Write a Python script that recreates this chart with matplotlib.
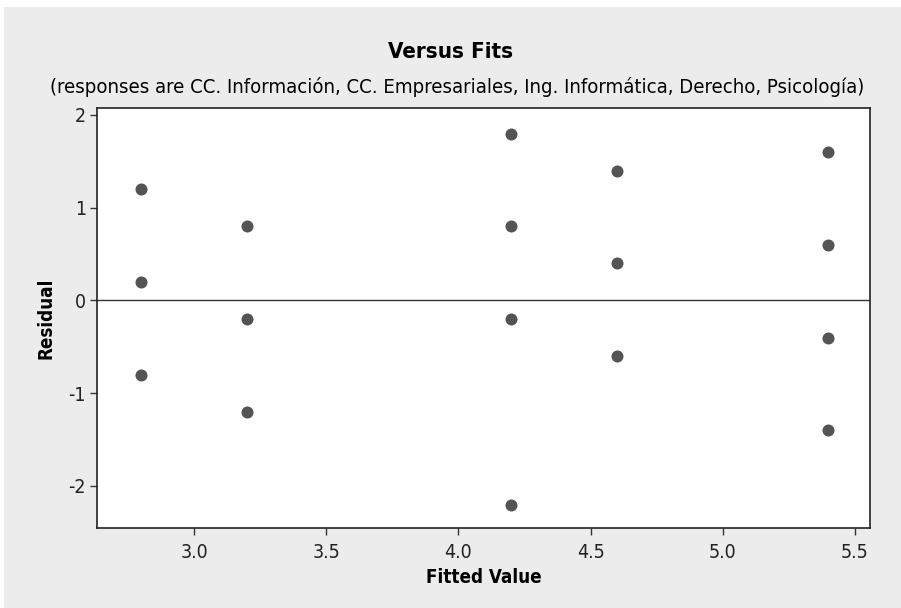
import matplotlib.pyplot as plt
from matplotlib.patches import Rectangle

# Residuals vs fitted values (Minitab-style)
fitted = [2.8, 2.8, 2.8,
          3.2, 3.2, 3.2,
          4.2, 4.2, 4.2, 4.2,
          4.6, 4.6, 4.6,
          5.4, 5.4, 5.4, 5.4]
residual = [1.2, 0.2, -0.8,
            0.8, -0.2, -1.2,
            1.8, 0.8, -0.2, -2.2,
            1.4, 0.4, -0.6,
            1.6, 0.6, -0.4, -1.4]

xticks = [3.0, 3.5, 4.0, 4.5, 5.0, 5.5]
yticks = [-2, -1, 0, 1, 2]

title = 'Versus Fits'
subtitle = ('(responses are CC. Información, CC. Empresariales, '
            'Ing. Informática, Derecho, Psicología)')

plt.rcParams['font.family'] = ['DejaVu Sans']
font = dict(family='DejaVu Sans', stretch='condensed')

fig = plt.figure(figsize=(9.01, 6.08), dpi=100, facecolor='white')
fig.patches.append(Rectangle((4 / 901, 0), 1, 1 - 7 / 608, transform=fig.transFigure,
                             facecolor='#ececec', edgecolor='none', zorder=-10))

ax = fig.add_axes([97 / 901, 80 / 608, 773 / 901, 420 / 608])
ax.set_facecolor('white')
ax.scatter(fitted, residual, s=75, color='#545454', zorder=3, linewidths=0)
ax.axhline(0, color='#333333', linewidth=1.0, zorder=2)

ax.set_xlim(2.633, 5.557)
ax.set_ylim(-2.453, 2.075)
ax.set_xticks(xticks)
ax.set_xticklabels(['%.1f' % t for t in xticks], fontsize=14, **font)
ax.set_yticks(yticks)
ax.set_yticklabels([str(t) for t in yticks], fontsize=14, **font)
ax.tick_params(direction='out', length=5, width=1, color='#333333', labelcolor='#222222')
ax.tick_params(axis='y', pad=3)
ax.tick_params(axis='x', pad=6)
for sp in ax.spines.values():
    sp.set_linewidth(1.2)
    sp.set_color('#222222')

ax.set_xlabel('Fitted Value', fontsize=13.5, fontweight='bold', labelpad=4, **font)
ax.set_ylabel('Residual', fontsize=13.5, fontweight='bold', labelpad=9, **font)

fig.text(0.5, 1 - 52 / 608, title, ha='center', va='center', fontsize=16,
         fontweight='bold', **font)
fig.text(457 / 901, 1 - 87 / 608, subtitle, ha='center', va='center', fontsize=14.6, **font)

fig.savefig('out.png', dpi=100, facecolor=fig.get_facecolor())
